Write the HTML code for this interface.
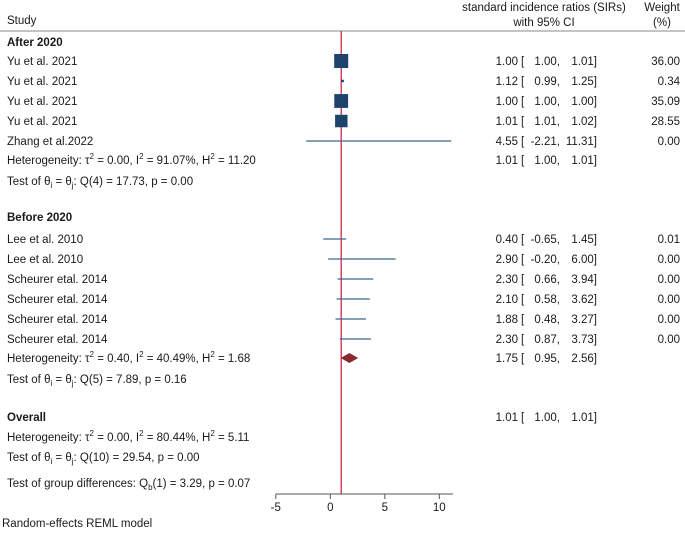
<!DOCTYPE html>
<html><head><meta charset="utf-8"><style>
body{margin:0;background:#fff}
svg text{font-family:"Liberation Sans",sans-serif;font-size:11.5px;fill:#1a1a1a}
.b{font-weight:bold}
</style></head><body>
<svg id="c" width="685" height="530" xmlns="http://www.w3.org/2000/svg">
<text x="7" y="24">Study</text>
<text x="544" y="11" text-anchor="middle">standard incidence ratios (SIRs)</text>
<text x="544" y="26" text-anchor="middle">with 95% CI</text>
<text x="662" y="11" text-anchor="middle">Weight</text>
<text x="662" y="26" text-anchor="middle">(%)</text>
<line x1="0" y1="31" x2="685" y2="31" stroke="#888" stroke-width="1"/>
<g id="g"></g>
</svg>
<script>
const studies=["Yu et al. 2021","Yu et al. 2021","Yu et al. 2021","Yu et al. 2021","Zhang et al.2022","Lee et al. 2010","Lee et al. 2010","Scheurer etal. 2014","Scheurer etal. 2014","Scheurer etal. 2014","Scheurer etal. 2014"];
const est=[1.00,1.12,1.00,1.01,4.55,0.40,2.90,2.30,2.10,1.88,2.30];
const lo=[1.00,0.99,1.00,1.01,-2.21,-0.65,-0.20,0.66,0.58,0.48,0.87];
const hi=[1.01,1.25,1.00,1.02,11.31,1.45,6.00,3.94,3.62,3.27,3.73];
const wt=[36.00,0.34,35.09,28.55,0.00,0.01,0.00,0.00,0.00,0.00,0.00];
const rowY=[61,81,101,121,141,239,259,279,299,319,339];
const ticks=[-5,0,5,10];
const subEst=[1.01,1.75], subLo=[1.00,0.95], subHi=[1.01,2.56];
const overall=[1.01,1.00,1.01];
const ns="http://www.w3.org/2000/svg",G=document.getElementById('g');
const X=v=>330.3+v*10.9;
function el(t,a,txt){const e=document.createElementNS(ns,t);for(const k in a)e.setAttribute(k,a[k]);if(txt!=null)e.textContent=txt;G.appendChild(e);return e;}
function ci(y,e,l,h,w,nm){
 let t=el('text',{x:518,y:y+4,'text-anchor':'end'},e.toFixed(2));
 
 
 t=el('text',{x:521,y:y+4},'[');
 t=el('text',{x:560,y:y+4,'text-anchor':'end'},l.toFixed(2)+',');
 
 
 t=el('text',{x:597,y:y+4,'text-anchor':'end'},h.toFixed(2)+']');
 
 
 if(w!=null){t=el('text',{x:680,y:y+4,'text-anchor':'end'},w.toFixed(2));
 
 }
}
function lbl(x,y,s,nm,bold){const t=el('text',{x:x,y:y+4,class:bold?'b':''});t.innerHTML=s;
 
 return t;}
const rl=el('line',{x1:X(1),x2:X(1),y1:31,y2:494,stroke:'#c4163a','stroke-width':1.2});


lbl(7,42,'After 2020','group-after-2020',1);
lbl(7,217,'Before 2020','group-before-2020',1);
lbl(7,417,'Overall','overall-label',1);
studies.forEach((s,i)=>{
 const y=rowY[i];
 lbl(7,y,s,'study-label-'+(i+1));
 const ln=el('line',{x1:X(Math.max(lo[i],-5)),x2:X(Math.min(hi[i],11.1)),y1:y,y2:y,stroke:'#3f6790','stroke-width':1.2});
 
 
 if(wt[i]>0.05){const sz=Math.max(2.5,14*Math.sqrt(wt[i]/36));
  const r=el('rect',{x:X(est[i])-sz/2,y:y-sz/2,width:sz,height:sz,fill:'#1b436b'});
  
  }
 ci(y,est[i],lo[i],hi[i],wt[i],'study-'+(i+1));
});
const sp='<tspan dy="-5" font-size="8">2</tspan>';
const het=[[160,'Heterogeneity: &#964;'+sp+'<tspan dy="5"> = 0.00, I</tspan>'+sp+'<tspan dy="5"> = 91.07%, H</tspan>'+sp+'<tspan dy="5"> = 11.20</tspan>','heterogeneity-after'],
[181,'Test of &#952;<tspan dy="3" font-size="8">i</tspan><tspan dy="-3"> = &#952;</tspan><tspan dy="3" font-size="8">j</tspan><tspan dy="-3">: Q(4) = 17.73, p = 0.00</tspan>','test-after'],
[358,'Heterogeneity: &#964;'+sp+'<tspan dy="5"> = 0.40, I</tspan>'+sp+'<tspan dy="5"> = 40.49%, H</tspan>'+sp+'<tspan dy="5"> = 1.68</tspan>','heterogeneity-before'],
[379,'Test of &#952;<tspan dy="3" font-size="8">i</tspan><tspan dy="-3"> = &#952;</tspan><tspan dy="3" font-size="8">j</tspan><tspan dy="-3">: Q(5) = 7.89, p = 0.16</tspan>','test-before'],
[437,'Heterogeneity: &#964;'+sp+'<tspan dy="5"> = 0.00, I</tspan>'+sp+'<tspan dy="5"> = 80.44%, H</tspan>'+sp+'<tspan dy="5"> = 5.11</tspan>','heterogeneity-overall'],
[457,'Test of &#952;<tspan dy="3" font-size="8">i</tspan><tspan dy="-3"> = &#952;</tspan><tspan dy="3" font-size="8">j</tspan><tspan dy="-3">: Q(10) = 29.54, p = 0.00</tspan>','test-overall'],
[483,'Test of group differences: Q<tspan dy="3" font-size="8">b</tspan><tspan dy="-3">(1) = 3.29, p = 0.07</tspan>','test-group-differences']];
het.forEach(h=>lbl(7,h[0],h[1],h[2]));
lbl(2,523,'Random-effects REML model','model-note');
ci(160,subEst[0],subLo[0],subHi[0],null,'subtotal-after');
ci(358,subEst[1],subLo[1],subHi[1],null,'subtotal-before');
ci(417,overall[0],overall[1],overall[2],null,'overall');
const d=el('polygon',{points:`${X(subLo[1])},358 ${X(subEst[1])},353 ${X(subHi[1])},358 ${X(subEst[1])},363`,fill:'#8b2a2e'});


const ax=el('line',{x1:X(-5),x2:453,y1:494,y2:494,stroke:'#555','stroke-width':1});


ticks.forEach(t=>{
 const tk=el('line',{x1:X(t),x2:X(t),y1:494,y2:499,stroke:'#555'});
 
 
 const tl=el('text',{x:X(t),y:511,'text-anchor':'middle','font-size':'12'},String(t));
 
 
});
</script>
</body></html>
